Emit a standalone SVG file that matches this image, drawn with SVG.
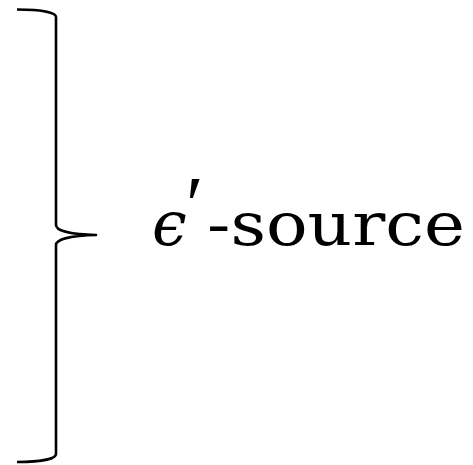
<svg xmlns="http://www.w3.org/2000/svg" width="473" height="465" viewBox="0 0 473 465">
<style>
.brace{fill:none;stroke:#000;stroke-width:2.6;stroke-linecap:butt;stroke-linejoin:round}
text{fill:#000}
</style>
<rect width="473" height="465" fill="#fff"/>
<g id="brace">
<path class="brace" d="M17,9.5 C40,9.5 56,12 56,17 L56,225 C56,231 72,234.5 96,235 C72,235.5 56,239 56,245 L56,454 C56,459 40,462 17,462"/>
</g>
<g id="label" font-family="'DejaVu Serif', serif">
<text x="152" y="245" font-size="62" font-style="italic">ϵ</text>
<text x="186" y="232" font-size="80" font-family="'Liberation Serif', serif">′</text>
<text x="207" y="245" font-size="60" textLength="258" lengthAdjust="spacingAndGlyphs">-source</text>
</g>
</svg>
